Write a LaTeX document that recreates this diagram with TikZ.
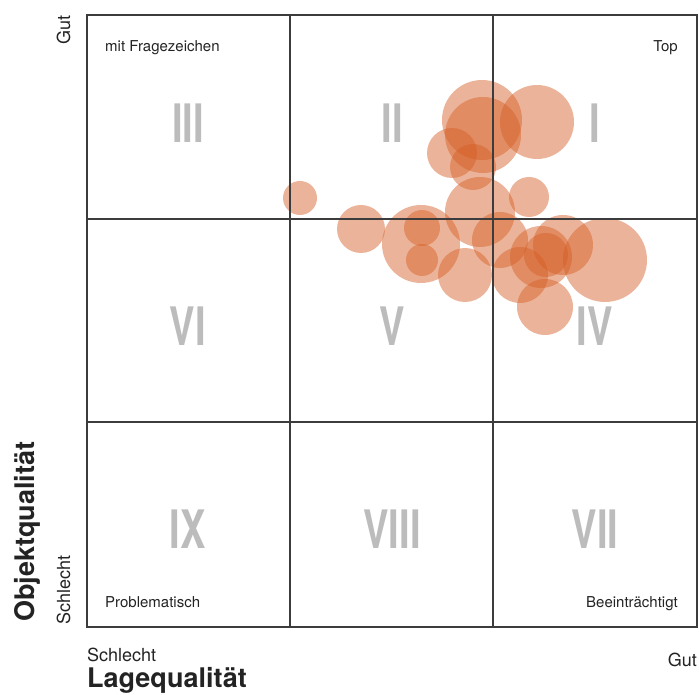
\documentclass[tikz,border=0pt]{standalone}
\usepackage{fontspec}
\setmainfont{TeX Gyre Heros}
\newfontfamily\numfont[FakeStretch=0.72]{TeX Gyre Heros}
\definecolor{bubblecol}{RGB}{212,92,34}
\definecolor{numgray}{RGB}{188,188,188}
\definecolor{linegray}{RGB}{60,60,60}
\definecolor{labelcol}{RGB}{35,35,35}
\begin{document}
\begin{tikzpicture}[x=1pt,y=1pt,every node/.style={inner sep=0pt,text=labelcol},
  bubble/.style={circle,fill=bubblecol,fill opacity=0.46},
  numeral/.style={text=numgray,font=\numfont\bfseries\fontsize{53}{53}\selectfont},
  corner/.style={font=\fontsize{15}{15}\selectfont},
  extreme/.style={font=\fontsize{18}{18}\selectfont},
  axislabel/.style={font=\bfseries\fontsize{27}{27}\selectfont},
  gridline/.style={draw=linegray,line width=1.2pt}]
\useasboundingbox (0,0) rectangle (699,695);
% bubbles
\foreach \x/\y/\r [count=\i] in {300/497/17, 361/466/24, 421/451/39, 422/467/18, 422/435/16,
    465/420/27, 480/483/35, 529/498/20, 500/455/28, 605/435/42, 563/450/30, 541/438/31,
    546/440/22, 545/388/28, 520/420/28, 482/575/40, 537/573/37, 483/560/38, 452/542/25, 473/528/23}
  \node[bubble,minimum size=2*\r] (b\i) at (\x,\y) {};
% grid
\draw[gridline] (87,68) rectangle (697,680);
\draw[gridline] (290,68) -- (290,680);
\draw[gridline] (493,68) -- (493,680);
\draw[gridline] (87,273) -- (697,273);
\draw[gridline] (87,476) -- (697,476);
% numerals
\foreach \n/\x/\y in {III/188/572, II/392/572, I/595/572, VI/188/369, V/392/369, IV/595/369,
    IX/188/166, VIII/392/166, VII/595/166}
  \node[numeral] (q\n) at (\x,\y) {\n};
% corner labels
\node[corner,anchor=base west] (fragezeichen) at (105,643) {mit Fragezeichen};
\node[corner,anchor=base east] (top) at (678,643) {Top};
\node[corner,anchor=base west] (problematisch) at (105,87) {Problematisch};
\node[corner,anchor=base east] (beeintraechtigt) at (678,87) {Beeinträchtigt};
% axes
\node[extreme,rotate=90,anchor=base east] (ygut) at (70,680) {Gut};
\node[extreme,rotate=90,anchor=base west] (yschlecht) at (70,70) {Schlecht};
\node[axislabel,rotate=90,anchor=base west] (objekt) at (35,73) {Objektqualität};
\node[extreme,anchor=base west] (xschlecht) at (87,33) {Schlecht};
\node[axislabel,anchor=base west] (lage) at (87,7) {Lagequalität};
\node[extreme,anchor=base east] (xgut) at (697,28) {Gut};
\end{tikzpicture}
\end{document}
